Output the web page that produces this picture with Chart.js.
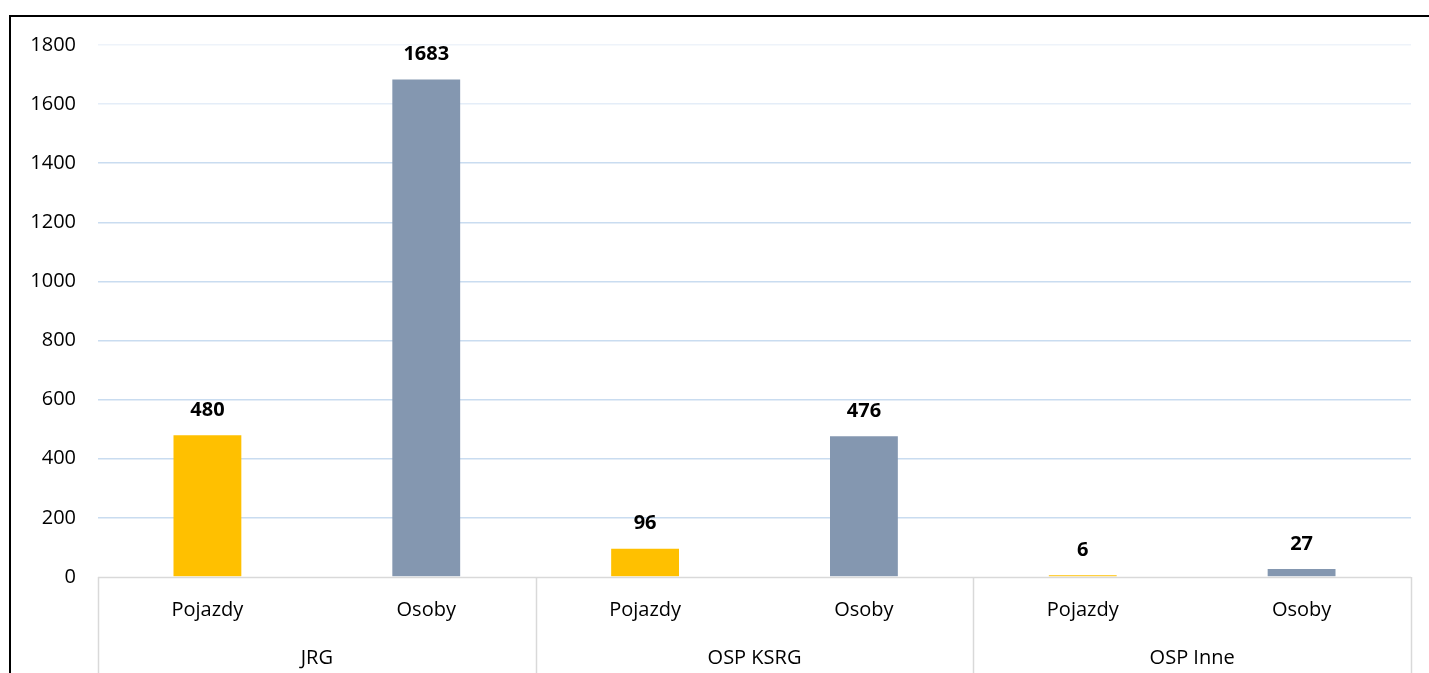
<!DOCTYPE html>
<html>
<head>
<meta charset="utf-8">
<script src="https://cdn.jsdelivr.net/npm/chart.js@4.4.1/dist/chart.umd.min.js"></script>
<style>
  html, body { margin: 0; padding: 0; background: #fff; }
  #wrap { width: 1429px; height: 673px; position: relative; }
</style>
</head>
<body>
<div id="wrap"><canvas id="chart" width="1429" height="673"></canvas></div>
<script>
// categories (inner level + outer groups)
const subLabels = ["Pojazdy", "Osoby", "Pojazdy", "Osoby", "Pojazdy", "Osoby"];
const groupLabels = ["JRG", "OSP KSRG", "OSP Inne"];
const values = [480, 1683, 96, 476, 6, 27];
const barColors = ["#FFC000", "#8497B0", "#FFC000", "#8497B0", "#FFC000", "#8497B0"];
const yMax = 1800;
const yStep = 200;

const FONT = "'Open Sans', 'Noto Sans', sans-serif";

// frame, x axis line, group separators, value labels
const extras = {
  id: "extras",
  afterDraw(chart) {
    const { ctx, chartArea } = chart;
    const x = chart.scales.x;
    ctx.save();
    // outer frame (top + left only)
    ctx.strokeStyle = "#000";
    ctx.lineWidth = 2;
    ctx.beginPath();
    ctx.moveTo(10, 673);
    ctx.lineTo(10, 16);
    ctx.lineTo(1429, 16);
    ctx.stroke();

    // x axis line
    ctx.strokeStyle = "#D9D9D9";
    ctx.lineWidth = 1.5;
    ctx.beginPath();
    ctx.moveTo(chartArea.left, chartArea.bottom + 0.5);
    ctx.lineTo(chartArea.right, chartArea.bottom + 0.5);
    // group separators: every 2 categories
    const half = (x.getPixelForValue(1) - x.getPixelForValue(0)) / 2;
    for (let g = 0; g <= groupLabels.length; g++) {
      let px = g === groupLabels.length ? chartArea.right : x.getPixelForValue(g * 2) - half;
      px = Math.round(px) + 0.5;
      ctx.moveTo(px, chartArea.bottom);
      ctx.lineTo(px, 673);
    }
    ctx.stroke();

    // value labels
    ctx.fillStyle = "#000";
    ctx.font = "bold 20px " + FONT;
    ctx.textAlign = "center";
    ctx.textBaseline = "middle";
    chart.getDatasetMeta(0).data.forEach((bar, i) => {
      ctx.fillText(String(values[i]), bar.x, bar.y - 25);
    });
    ctx.restore();
  }
};

new Chart(document.getElementById("chart"), {
  type: "bar",
  data: {
    labels: subLabels,
    datasets: [{
      data: values,
      backgroundColor: barColors,
      borderWidth: 0,
      categoryPercentage: 1,
      barPercentage: 0.31
    }]
  },
  options: {
    responsive: false,
    animation: false,
    layout: { padding: { left: 10, right: 18, top: 45, bottom: 0 } },
    plugins: { legend: { display: false }, tooltip: { enabled: false } },
    scales: {
      x: {
        grid: { display: false },
        border: { display: false },
        ticks: { color: "#000", font: { family: FONT, size: 20 }, padding: 13, maxRotation: 0 },
        afterFit(s) { s.height = 58; }
      },
      x2: {
        type: "category",
        labels: groupLabels,
        position: "bottom",
        grid: { display: false },
        border: { display: false },
        ticks: { color: "#000", font: { family: FONT, size: 20 }, padding: 3, maxRotation: 0 },
        afterFit(s) { s.height = 38; }
      },
      y: {
        min: 0,
        max: yMax,
        ticks: {
          stepSize: yStep,
          color: "#000",
          font: { family: FONT, size: 20 },
          padding: 22,
          callback: (v) => String(v)
        },
        border: { display: false },
        grid: {
          drawTicks: false,
          lineWidth: 1.5,
          color(c) {
            const v = c.tick ? c.tick.value : 0;
            if (v === 0) return "rgba(0,0,0,0)";
            if (v === 1800) return "#EEF3FA";
            if (v === 1600) return "#E4EDF8";
            return "#C9DCF0";
          }
        },
        afterFit(s) { s.width = 88; }
      }
    }
  },
  plugins: [extras]
});
</script>
</body>
</html>
